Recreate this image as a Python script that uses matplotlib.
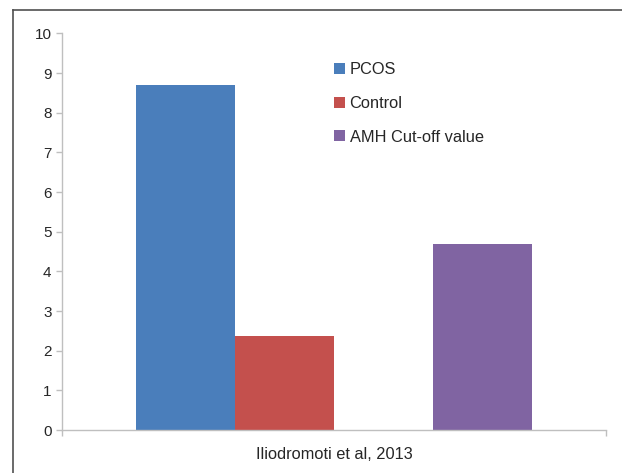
import matplotlib
matplotlib.use("Agg")
import matplotlib.pyplot as plt
from matplotlib.patches import Rectangle
from matplotlib.lines import Line2D

# Data
category = "Iliodromoti et al, 2013"
series_names = ["PCOS", "Control", "AMH Cut-off value"]
series_values = [8.7, 2.37, 4.7]
series_colors = ["#4A7EBB", "#C4504D", "#8064A2"]
# slot of each series inside the cluster (slot 2 is an empty series)
series_slots = [0, 1, 3]
n_slots = 4
gap_width = 1.5  # Excel-style gap width (150 %)
y_ticks = list(range(0, 11))

plt.rcParams["font.family"] = ["Liberation Sans", "DejaVu Sans"]

W, H = 622, 473
DPI = 100
fig = plt.figure(figsize=(W / DPI, H / DPI), dpi=DPI)
fig.patch.set_facecolor("white")

# axes placement in pixels
ax_left, ax_right = 62, 606
ax_top, ax_bottom = 33.5, 430
ax = fig.add_axes([ax_left / W, 1 - ax_bottom / H,
                   (ax_right - ax_left) / W, (ax_bottom - ax_top) / H])

slot_w = 1.0 / (n_slots + gap_width)
handles = []
for name, val, col, slot in zip(series_names, series_values, series_colors, series_slots):
    x = -0.5 + (gap_width / 2) * slot_w + (slot + 0.5) * slot_w
    ax.bar(x, val, width=slot_w, color=col, linewidth=0, label=name, zorder=2)
    handles.append(Rectangle((0, 0), 1, 1, facecolor=col, edgecolor="none"))

ax.set_xlim(-0.5, 0.5)
ax.set_ylim(0, 10)
ax.set_yticks(y_ticks)

axis_col = "#BFBFBF"
text_col = "#262626"
for s in ["top", "right"]:
    ax.spines[s].set_visible(False)
for s in ["left", "bottom"]:
    ax.spines[s].set_color(axis_col)
    ax.spines[s].set_linewidth(1.0)

ax.tick_params(axis="y", direction="out", length=4, width=1.0, color=axis_col,
               labelsize=11, labelcolor=text_col, pad=3.5)
ax.set_xticks([0])
ax.set_xticklabels([category])
ax.set_xticks([-0.5, 0.5], minor=True)
ax.tick_params(axis="x", which="major", length=0, labelsize=11.8,
               labelcolor=text_col, pad=12.5)
ax.tick_params(axis="x", which="minor", direction="out", length=4, width=1.0,
               color=axis_col)

leg = ax.legend(handles, series_names, loc="upper left",
                bbox_to_anchor=(334 / W, 1 - 62 / H),
                bbox_transform=fig.transFigure, frameon=False,
                fontsize=11.8, handlelength=0.65, handleheight=0.65,
                handletextpad=0.3, labelspacing=1.15, borderpad=0,
                borderaxespad=0)
for t in leg.get_texts():
    t.set_color(text_col)

# outer frame lines (top and left)
frame_col = "#505050"
fig.add_artist(Line2D([13 / W, 13 / W], [0, 1 - 10.5 / H], transform=fig.transFigure,
                      color=frame_col, linewidth=1.2))
fig.add_artist(Line2D([13 / W, 1], [1 - 10.5 / H, 1 - 10.5 / H], transform=fig.transFigure,
                      color=frame_col, linewidth=1.2))

fig.savefig("out.png", dpi=DPI, facecolor="white")
